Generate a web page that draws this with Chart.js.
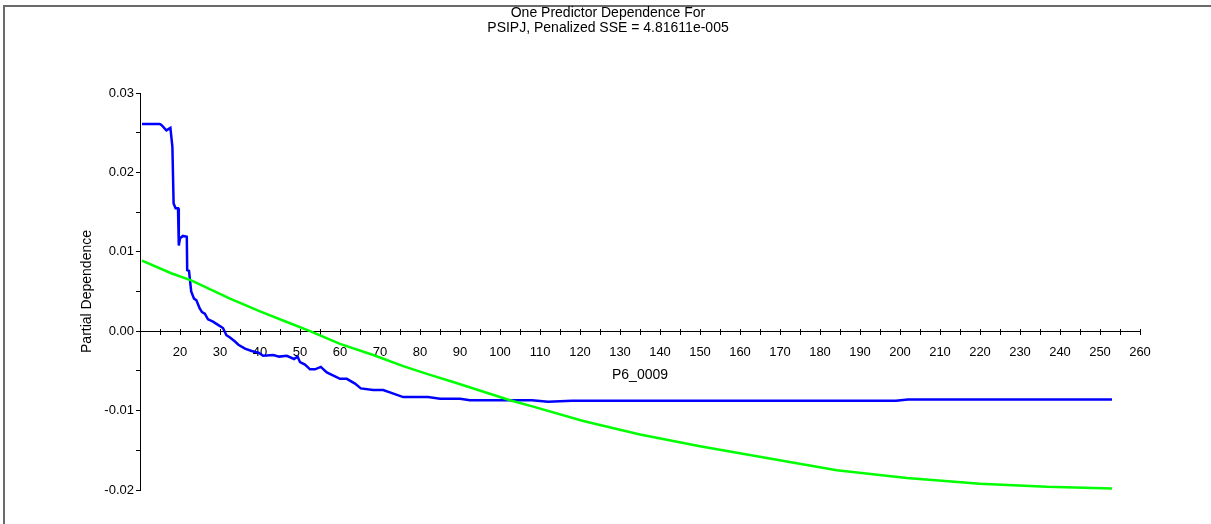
<!DOCTYPE html>
<html>
<head>
<meta charset="utf-8">
<script src="https://cdn.jsdelivr.net/npm/chart.js@4.4.1/dist/chart.umd.min.js"></script>
<style>
  html, body { margin: 0; padding: 0; background: #fff; }
  #wrap { position: relative; width: 1211px; height: 524px; overflow: hidden; }
  #frame { position: absolute; left: 3px; top: 5px; width: 1300px; height: 600px;
           border-top: 2px solid #6a6a6a; border-left: 2px solid #6a6a6a; box-sizing: border-box; }
  canvas { position: absolute; left: 0; top: 0; }
</style>
</head>
<body>
<div id="wrap">
  <div id="frame"></div>
  <canvas id="c" width="1211" height="524"></canvas>
</div>
<script>
// ---- data ----
const titleLines = ['One Predictor Dependence For', 'PSIPJ, Penalized SSE = 4.81611e-005'];
const xTitle = 'P6_0009';
const yTitle = 'Partial Dependence';

const blueX = [10.5, 14.9, 15.3, 16.6, 17.6, 18.1, 18.4, 18.9, 19.5, 19.7, 20.0, 20.75, 21.7, 21.8, 22.25,
  22.8, 23.5, 24.1, 24.9, 25.5, 26.2, 27, 28.25, 29.5, 30.75, 31.6, 32.5, 33.75, 34.6, 36.25, 37.9, 39.6,
  40.8, 43.3, 44.8, 46.7, 48.5, 49.4, 50, 51.25, 52.5, 53.75, 55.2, 56.7, 58.75, 60, 61.7, 63.75, 65.2,
  68.3, 70.8, 73, 75.8, 82, 85, 90, 92.5, 108, 112, 118, 199, 202, 253];
const blueY = [0.0261, 0.0261, 0.0260, 0.0253, 0.0256, 0.0232, 0.0161, 0.0155, 0.0155, 0.0108, 0.0117, 0.0120,
  0.0119, 0.0077, 0.0076, 0.0050, 0.0041, 0.0039, 0.0029, 0.0024, 0.0022, 0.0015, 0.0012, 0.0008, 0.0004,
  -0.0005, -0.0008, -0.0013, -0.0017, -0.0022, -0.0025, -0.0027, -0.0031, -0.0030, -0.0032, -0.0031, -0.0035,
  -0.0032, -0.0039, -0.0042, -0.0048, -0.0048, -0.0045, -0.0052, -0.0057, -0.0060, -0.0060, -0.0066, -0.0072,
  -0.0074, -0.0074, -0.0078, -0.0083, -0.0083, -0.0085, -0.0085, -0.0087, -0.0087, -0.0089, -0.00875,
  -0.00875, -0.0086, -0.0086];

const greenX = [10.5, 17.8, 22.8, 32.5, 40, 47.5, 52.5, 60, 68.3, 75.8, 82.5, 88.3, 102.5, 108.3, 120.8,
  135, 150, 169.2, 184.2, 201.7, 220, 236.7, 253];
const greenY = [0.0089, 0.0073, 0.0064, 0.0041, 0.0025, 0.0010, 0.0000, -0.0016, -0.0030, -0.0044, -0.0055,
  -0.0064, -0.0087, -0.0095, -0.0113, -0.0130, -0.0145, -0.0162, -0.0175, -0.0185, -0.0192, -0.0196, -0.0198];

const xMin = 10, xMax = 260, xStep = 5;
const yMin = -0.02, yMax = 0.03, yStep = 0.005;

// ---- chart ----
Chart.defaults.font.family = "'Liberation Sans', Arial, sans-serif";
Chart.defaults.font.size = 13;
Chart.defaults.color = '#000';

const toPts = (xs, ys) => xs.map((x, i) => ({ x: x, y: ys[i] }));

const xTickCb = v => (Math.abs(v % 10) < 1e-9 && v !== xMin) ? String(v) : '';
const yTickCb = v => {
  const h = Math.round(v * 1000);
  return (h % 10 === 0) ? (h / 1000).toFixed(2) : '';
};

new Chart(document.getElementById('c'), {
  type: 'line',
  data: {
    datasets: [
      { data: toPts(greenX, greenY), borderColor: '#00ff00', borderWidth: 2.5, pointRadius: 0, tension: 0, fill: false },
      { data: toPts(blueX, blueY), borderColor: '#0000ff', borderWidth: 2.5, pointRadius: 0, tension: 0, fill: false }
    ]
  },
  options: {
    responsive: false,
    animation: false,
    events: [],
    layout: { padding: { left: 76, right: 71, top: 0, bottom: 34 } },
    plugins: {
      legend: { display: false },
      tooltip: { enabled: false },
      title: {
        display: true,
        text: titleLines,
        color: '#000',
        font: { size: 14, weight: 'normal', lineHeight: '15px' },
        padding: { top: 6, bottom: 57 }
      }
    },
    scales: {
      x: {
        type: 'linear',
        position: { y: 0 },
        min: xMin, max: xMax,
        grid: { drawOnChartArea: false, tickLength: -3, tickColor: '#000', tickWidth: 1 },
        border: { color: '#000', width: 1 },
        ticks: { stepSize: xStep, callback: xTickCb, maxRotation: 0, autoSkip: false, padding: 16, color: '#000' },
        title: { display: true, text: xTitle, color: '#000', font: { size: 14, lineHeight: '15px' }, padding: { top: -8, bottom: 0 } }
      },
      x2: {
        type: 'linear',
        position: { y: 0 },
        min: xMin, max: xMax,
        grid: { drawOnChartArea: false, tickLength: 3, tickColor: '#000', tickWidth: 1 },
        border: { color: '#000', width: 1 },
        ticks: { stepSize: xStep, display: false, autoSkip: false }
      },
      y: {
        type: 'linear',
        position: 'left',
        min: yMin, max: yMax,
        afterFit: s => { s.width = 64; },
        grid: { drawOnChartArea: false, tickLength: 4, tickColor: '#000', tickWidth: 1 },
        border: { color: '#000', width: 1 },
        ticks: { stepSize: yStep, callback: yTickCb, autoSkip: false, padding: 2, color: '#000' },
        title: { display: true, text: yTitle, color: '#000', font: { size: 14, lineHeight: '15px' }, padding: { top: 4, bottom: 0 } }
      }
    }
  }
});
</script>
</body>
</html>
